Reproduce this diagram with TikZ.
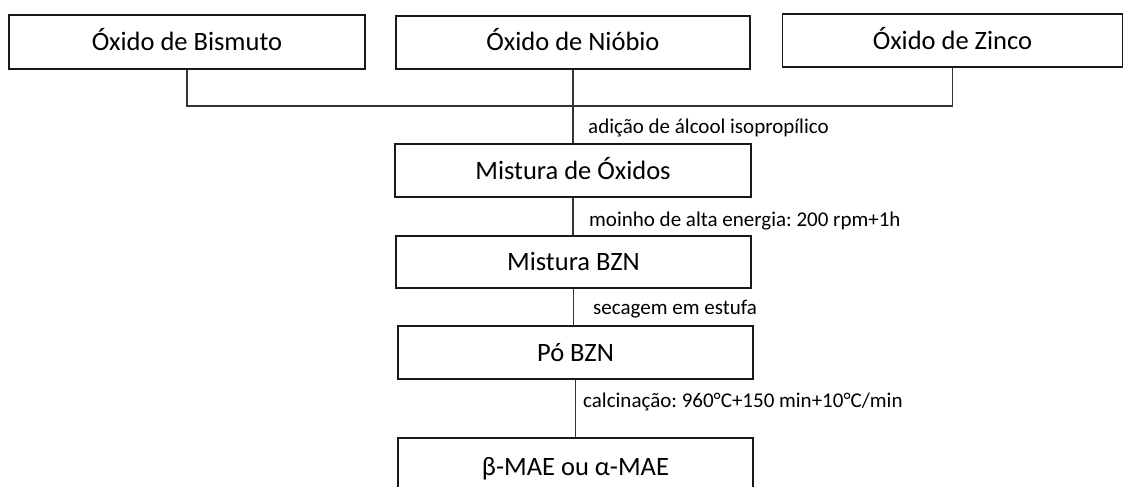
\documentclass[tikz,border=0pt]{standalone}
\usepackage{fontspec}
\setmainfont{Carlito}
\frenchspacing
\begin{document}
\begin{tikzpicture}[x=1pt,y=-1pt,
  boxnode/.style={draw=black!90, line width=1.2pt, rectangle, inner sep=0pt,
    text height=17pt, text depth=0pt, font=\fontsize{26.5}{32}\selectfont},
  lbl/.style={anchor=base west, inner sep=0pt, font=\fontsize{21}{25}\selectfont},
  conn/.style={draw=black!80, line width=1.1pt}]
\useasboundingbox (0,0) rectangle (1124,487);
\clip (0,0) rectangle (1124,487);
\node[boxnode, minimum width=356pt, minimum height=54pt] (b1) at (187,42) {Óxido de Bismuto};
\node[boxnode, minimum width=354pt, minimum height=53pt] (b2) at (573,42.5) {Óxido de Nióbio};
\node[boxnode, minimum width=340pt, minimum height=53pt] (b3) at (952.5,40.5) {Óxido de Zinco};
\node[boxnode, minimum width=356pt, minimum height=53pt] (m1) at (573,170.5) {Mistura de Óxidos};
\node[boxnode, minimum width=355pt, minimum height=52pt] (m2) at (573.5,262) {Mistura BZN};
\node[boxnode, minimum width=355pt, minimum height=53pt] (m3) at (575.5,352.5) {Pó BZN};
\node[boxnode, minimum width=355pt, minimum height=58pt] (m4) at (575.5,467) {β-MAE ou α-MAE};
\coordinate (j) at (573,106);
\draw[conn] (b1.south) |- (j);
\draw[conn] (b3.south) |- (j);
\draw[conn] (b2.south) -- (m1.north);
\draw[conn] (m1.south) -- (m1.south |- m2.north);
\draw[conn] (m2.south) -- (m2.south |- m3.north);
\draw[conn] (m3.south) -- (m3.south |- m4.north);
\node[lbl] (l1) at (588,133) {adição de álcool isopropílico};
\node[lbl] (l2) at (589,226) {moinho de alta energia: 200 rpm+1h};
\node[lbl] (l3) at (593,314) {secagem em estufa};
\node[lbl] (l4) at (583,407) {calcinação: 960°C+150 min+10°C/min};
\end{tikzpicture}
\end{document}
